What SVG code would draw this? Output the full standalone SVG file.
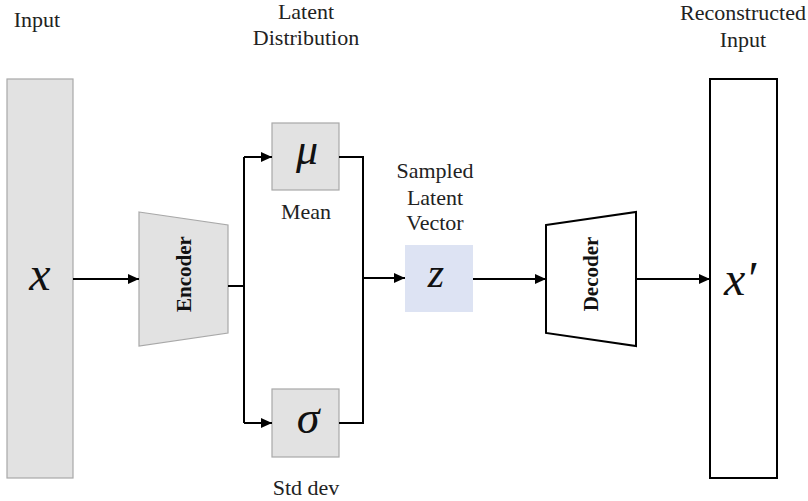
<svg xmlns="http://www.w3.org/2000/svg" width="808" height="501" viewBox="0 0 808 501">
<style>
text{font-family:'Liberation Serif','DejaVu Serif','Times New Roman',serif}
.lbl{font-size:22px;fill:#222;text-anchor:middle}
.math{font-style:italic;fill:#111;text-anchor:middle}
.bold{font-weight:bold;font-size:21px;fill:#111;text-anchor:middle}
.grey{fill:#e2e2e2;stroke:#a8a8a8;stroke-width:1.2}
.line{fill:none;stroke:#000;stroke-width:2}
</style>
<defs>
<marker id="ah" markerWidth="11" markerHeight="10" refX="11" refY="5" orient="auto" markerUnits="userSpaceOnUse">
<path d="M0,0 L11,5 L0,10 Z" fill="#000"/>
</marker>
</defs>
<rect width="808" height="501" fill="#fff"/>

<g id="input">
<rect class="grey" x="7" y="79" width="66" height="399"/>
<text class="math" x="40" y="290" font-size="48">x</text>
<text class="lbl" x="37" y="27">Input</text>
</g>

<g id="encoder">
<polygon class="grey" points="139,212 228,225 228,333 139,346"/>
<text class="bold" transform="translate(191,274) rotate(-90)">Encoder</text>
</g>

<g id="mean">
<rect class="grey" x="272" y="123" width="67" height="67"/>
<text class="math" x="307" y="164" font-size="44">μ</text>
<text class="lbl" x="306" y="219">Mean</text>
</g>

<g id="stddev">
<rect class="grey" x="272" y="389" width="67" height="68"/>
<text class="math" x="308" y="433" font-size="46">σ</text>
<text class="lbl" x="306" y="495">Std dev</text>
</g>

<g id="latent-label">
<text class="lbl" x="306" y="19">Latent</text>
<text class="lbl" x="306" y="45">Distribution</text>
</g>

<g id="z">
<rect x="405" y="245" width="68" height="67" fill="#dde3f3"/>
<text class="math" x="436" y="287" font-size="42">z</text>
<text class="lbl" x="435" y="178">Sampled</text>
<text class="lbl" x="435" y="205">Latent</text>
<text class="lbl" x="435" y="230">Vector</text>
</g>

<g id="decoder">
<polygon points="546,225 636,212 636,346 546,333" fill="#fff" stroke="#000" stroke-width="2"/>
<text class="bold" transform="translate(598,274) rotate(-90)">Decoder</text>
</g>

<g id="output">
<rect x="710" y="79" width="67" height="399" fill="#fff" stroke="#000" stroke-width="2"/>
<text class="math" x="740" y="295" font-size="48">x′</text>
<text class="lbl" x="743" y="20">Reconstructed</text>
<text class="lbl" x="743" y="47">Input</text>
</g>

<g id="connectors">
<line class="line" x1="73" y1="279" x2="139" y2="279" marker-end="url(#ah)"/>
<polyline class="line" points="228,286 244,286"/>
<polyline class="line" points="244,157 244,423"/>
<line class="line" x1="244" y1="157" x2="272" y2="157" marker-end="url(#ah)"/>
<line class="line" x1="244" y1="423" x2="272" y2="423" marker-end="url(#ah)"/>
<polyline class="line" points="339,157 363,157 363,423 339,423"/>
<line class="line" x1="363" y1="278" x2="405" y2="278" marker-end="url(#ah)"/>
<line class="line" x1="473" y1="279" x2="546" y2="279" marker-end="url(#ah)"/>
<line class="line" x1="636" y1="279" x2="710" y2="279" marker-end="url(#ah)"/>
</g>
</svg>
